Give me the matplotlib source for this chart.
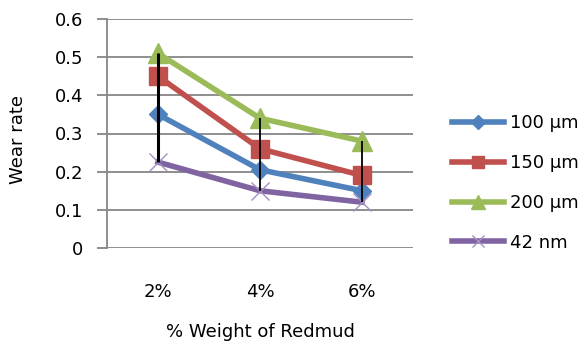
import numpy as np
import matplotlib
matplotlib.use("Agg")
import matplotlib.pyplot as plt

plt.rcParams['font.family'] = ['DejaVu Sans']

categorias = ["2%", "4%", "6%"]
series = ["100 µm", "150 µm", "200 µm", "42 nm"]
v100 = [0.35, 0.205, 0.15]
v150 = [0.45, 0.26, 0.19]
v200 = [0.51, 0.34, 0.28]
v42 = [0.225, 0.15, 0.12]

colores = ["#4F81BD", "#C0504D", "#9BBB59", "#8064A2"]
marcadores = ["D", "s", "^", "x"]
tamanos = [9.5, 13, 14, 13]

W, H = 586, 343
fig = plt.figure(figsize=(W/100, H/100), dpi=100)
ax = fig.add_axes([107/W, 1-248/H, (413-107)/W, (248-19)/H])

x = np.arange(len(categorias))
datos = [v100, v150, v200, v42]

# lineas alto-bajo (negro) en cada categoria
altos = np.max(datos, axis=0)
bajos = np.min(datos, axis=0)
ax.vlines(x, bajos, altos, color="black", lw=[2.2, 1.3, 1.3], zorder=4)

for y, c, m, s, lab in zip(datos, colores, marcadores, tamanos, series):
    if m == "x":
        ax.plot(x, y, color=c, lw=4, marker=m, ms=s, mew=1, mec="#A48FC4", label=lab, zorder=3)
    else:
        ax.plot(x, y, color=c, lw=4, marker=m, ms=s, mec=c, label=lab, zorder=3)

ax.set_xlim(-0.5, 2.5)
ax.set_ylim(0, 0.6)
ax.set_yticks(np.arange(0, 0.61, 0.1))
ax.set_yticklabels(["0", "0.1", "0.2", "0.3", "0.4", "0.5", "0.6"])
ax.set_xticks(x)
ax.set_xticklabels(categorias)
ax.yaxis.grid(True, color="#868686", lw=1.3)
ax.set_axisbelow(True)
for s in ["top", "right", "bottom"]:
    ax.spines[s].set_visible(False)
ax.spines["left"].set_color("#868686")
ax.spines["left"].set_linewidth(1.3)
ax.tick_params(axis="y", length=7, color="#868686", width=1.3, labelsize=13, pad=10)
ax.tick_params(axis="x", length=0, labelsize=13, pad=25)

fig.text(260/W, 1-332/H, "% Weight of Redmud", ha="center", va="center", fontsize=13)
fig.text(18/W, 1-140/H, "Wear rate", ha="center", va="center", rotation=90, fontsize=13)

fig.legend(loc="center left", bbox_to_anchor=(452/W, 1-183/H), frameon=False,
           fontsize=13, handlelength=2.9, handletextpad=0.3, labelspacing=1.2,
           borderpad=0, borderaxespad=0, markerscale=0.7)

fig.savefig("out.png", dpi=100)
